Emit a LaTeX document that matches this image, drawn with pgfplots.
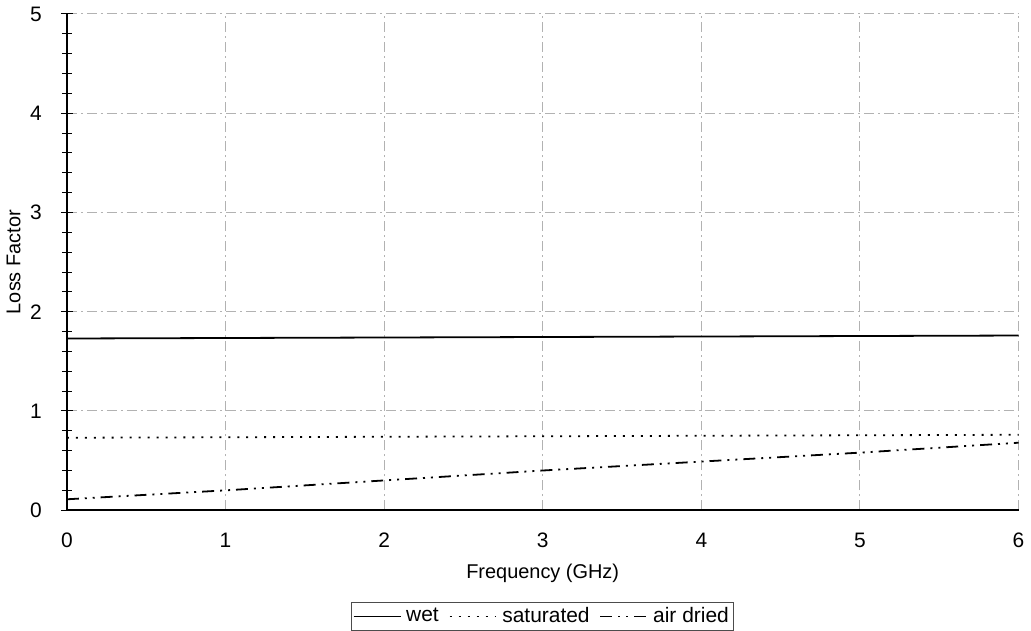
\documentclass[border=0pt]{standalone}
\usepackage{fontspec}
\setmainfont{Liberation Sans}
\usepackage{pgfplots}
\pgfplotsset{compat=1.18}
\begin{document}
\begin{tikzpicture}
  \begin{axis}[
    scale only axis,
    width=477.5pt, height=249pt,
    xmin=0, xmax=6, ymin=0, ymax=5,
    xtick={0,...,6}, ytick={0,...,5},
    minor y tick num=4,
    axis x line*=bottom, axis y line*=left,
    axis line style={black, line width=0.9pt, -},
    tick align=center,
    major tick length=6pt, minor tick length=5pt,
    tick style={black, line width=0.5pt},
    xtick style={draw=none},
    grid=major,
    major grid style={gray!60, line width=0.5pt, dash pattern=on 5pt off 2pt on 1pt off 2pt},
    /pgf/number format/assume math mode=true,
    ticklabel style={font=\fontsize{10.5}{12}\selectfont},
    xticklabel style={yshift=-5pt},
    yticklabel style={xshift=-6pt},
    xlabel={Frequency (GHz)},
    ylabel={Loss Factor},
    label style={font=\fontsize{10}{12}\selectfont},
    xlabel style={yshift=-1pt},
    ylabel style={yshift=-2pt},
    legend columns=3,
    legend style={at={(0.5,-0.185)}, anchor=north, draw=black!70, line width=0.4pt,
      font=\fontsize{10.5}{12}\selectfont, inner sep=0.5pt,
      /tikz/every even column/.append style={column sep=3pt}},
    legend image code/.code={\draw[#1] (0pt,0pt) -- (24pt,0pt);},
  ]
    \addplot[black, line width=0.9pt] coordinates {(0,1.73) (1,1.735) (2,1.74) (3,1.745) (4,1.75) (5,1.755) (6,1.76)};
    \addlegendentry{wet}
    \addplot[black, line width=0.9pt, dash pattern=on 1pt off 3.5pt] coordinates {(0,0.73) (1,0.735) (2,0.74) (3,0.745) (4,0.75) (5,0.755) (6,0.76)};
    \addlegendentry{saturated}
    \addplot[black, line width=0.9pt, dash pattern=on 6pt off 3pt on 1pt off 3pt on 1pt off 3pt] coordinates {(0,0.11) (1,0.20) (2,0.30) (3,0.40) (4,0.49) (5,0.58) (6,0.68)};
    \addlegendentry{air dried}
  \end{axis}
\end{tikzpicture}
\end{document}
